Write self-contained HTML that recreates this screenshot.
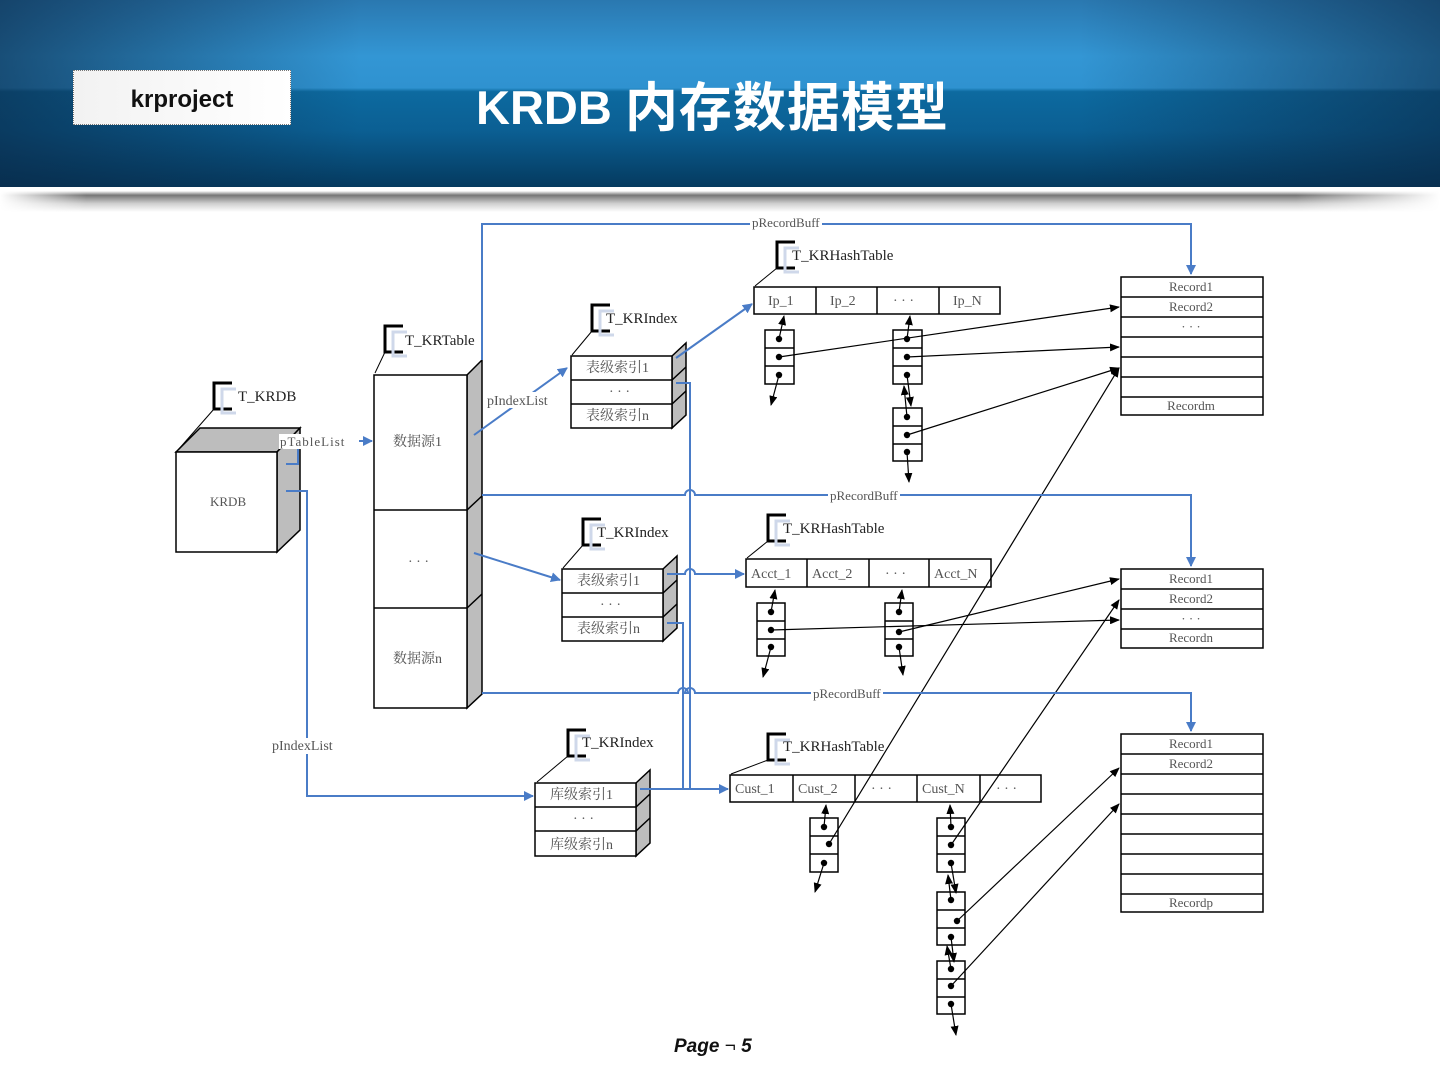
<!DOCTYPE html>
<html><head><meta charset="utf-8">
<style>
html,body{margin:0;padding:0;background:#fff;}
#wrap{position:relative;width:1440px;height:1080px;overflow:hidden;background:#fff;}
#hdr{position:absolute;left:0;top:0;width:1440px;height:187px;
background:linear-gradient(180deg,#2a78b0 0%,#3396d4 30%,#2f92d0 47%,#0d6aa0 49%,#0b5f93 70%,#053a5f 100%);}
#hdr:before{content:"";position:absolute;left:0;top:0;width:1440px;height:187px;
background:linear-gradient(90deg,rgba(10,40,70,.65) 0%,rgba(10,40,70,0) 25%,rgba(10,40,70,0) 75%,rgba(10,40,70,.6) 100%);}
#shadow{position:absolute;left:0;top:188px;width:1440px;height:24px;
background:linear-gradient(180deg,#fff 0%,#fff 12%,#777 30%,#cfcfcf 65%,#fff 100%);}
#shadow:after{content:"";position:absolute;left:0;top:0;width:1440px;height:24px;
background:linear-gradient(90deg,#fff 0%,rgba(255,255,255,0) 6%,rgba(255,255,255,0) 90%,#fff 100%);}
#kr{position:absolute;left:73px;top:70px;width:218px;height:55px;background:linear-gradient(90deg,#f2f2f2,#fff);
border:1px dotted #777;font:bold 24px "Liberation Sans",sans-serif;color:#111;text-align:center;line-height:57px;box-sizing:border-box;}
#title{position:absolute;left:476px;top:64px;font:bold 47px "Liberation Sans","Noto Sans CJK SC",sans-serif;color:#fff;white-space:nowrap;}
#title span{font-size:53px;letter-spacing:1px;position:relative;top:2px;}
#page{position:absolute;left:674px;top:1036px;font:italic bold 19px "Liberation Sans",sans-serif;color:#111;}
svg{position:absolute;left:0;top:0;}
</style></head><body><div id="wrap">
<div id="hdr"></div>
<div id="shadow"></div>
<div id="kr">krproject</div>
<div id="title">KRDB <span>内存数据模型</span></div>
<div id="page">Page <span style="font-style:normal;font-weight:normal">¬</span> 5</div>

<svg width="1440" height="1080" viewBox="0 0 1440 1080" font-family="'Liberation Serif','Noto Serif CJK SC',serif" font-size="14" fill="#555">
<defs>
<marker id="ba" markerWidth="10" markerHeight="10" refX="9" refY="5" orient="auto" markerUnits="userSpaceOnUse"><path d="M0,0 L10,5 L0,10 z" fill="#4a7cc7"/></marker>
<marker id="ka" markerWidth="10" markerHeight="8" refX="9" refY="4" orient="auto" markerUnits="userSpaceOnUse"><path d="M0,0 L10,4 L0,8 z" fill="#000"/></marker>
<marker id="dot" markerWidth="8" markerHeight="8" refX="4" refY="4" markerUnits="userSpaceOnUse"><circle cx="4" cy="4" r="3.2" fill="#000"/></marker>
</defs>

<!-- brackets -->
<g fill="none" stroke-width="3">
<path d="M232,383 h-18 v26 h18" stroke="#000"/><path d="M236,389 h-14 v24 h14" stroke="#cfd8ea"/>
<path d="M403,326 h-18 v26 h18" stroke="#000"/><path d="M407,332 h-14 v24 h14" stroke="#cfd8ea"/>
<path d="M610,305 h-18 v26 h18" stroke="#000"/><path d="M614,311 h-14 v24 h14" stroke="#cfd8ea"/>
<path d="M601,519 h-18 v26 h18" stroke="#000"/><path d="M605,525 h-14 v24 h14" stroke="#cfd8ea"/>
<path d="M586,730 h-18 v26 h18" stroke="#000"/><path d="M590,736 h-14 v24 h14" stroke="#cfd8ea"/>
<path d="M795,242 h-18 v26 h18" stroke="#000"/><path d="M799,248 h-14 v24 h14" stroke="#cfd8ea"/>
<path d="M786,515 h-18 v26 h18" stroke="#000"/><path d="M790,521 h-14 v24 h14" stroke="#cfd8ea"/>
<path d="M786,734 h-18 v26 h18" stroke="#000"/><path d="M790,740 h-14 v24 h14" stroke="#cfd8ea"/>
</g>
<g stroke="#000" stroke-width="1">
<line x1="214" y1="409" x2="178" y2="450"/>
<line x1="385" y1="352" x2="375" y2="373"/>
<line x1="592" y1="331" x2="572" y2="355"/>
<line x1="583" y1="545" x2="563" y2="568"/>
<line x1="568" y1="756" x2="537" y2="782"/>
<line x1="777" y1="268" x2="755" y2="286"/>
<line x1="768" y1="541" x2="747" y2="558"/>
<line x1="768" y1="760" x2="731" y2="774"/>
</g>
<g fill="#222" font-size="15">
<text x="238" y="401">T_KRDB</text>
<text x="405" y="345">T_KRTable</text>
<text x="606" y="323">T_KRIndex</text>
<text x="597" y="537">T_KRIndex</text>
<text x="582" y="747">T_KRIndex</text>
<text x="792" y="260">T_KRHashTable</text>
<text x="783" y="533">T_KRHashTable</text>
<text x="783" y="751">T_KRHashTable</text>
</g>

<!-- KRDB cube -->
<g stroke="#000" stroke-width="1.5">
<path d="M176,452 L200,428 L300,428 L277,452 z" fill="#bdbdbd"/>
<path d="M277,452 L300,428 L300,530 L277,552 z" fill="#bdbdbd"/>
<rect x="176" y="452" width="101" height="100" fill="#fff"/>
</g>
<text x="210" y="506" font-size="13">KRDB</text>

<!-- KRTable -->
<g stroke="#000" stroke-width="1.5">
<path d="M467,375 L482,360 L482,694 L467,708 z" fill="#bdbdbd"/>
<rect x="374" y="375" width="93" height="333" fill="#fff"/>
<path d="M374,510 H467 L482,496" fill="none"/>
<path d="M374,608 H467 L482,594" fill="none"/>
</g>
<text x="393" y="446">数据源1</text>
<text x="408" y="566">· · ·</text>
<text x="393" y="663">数据源n</text>

<!-- KRIndex boxes -->
<g stroke="#000" stroke-width="1.5">
<path d="M672,356 L686,343 L686,415 L672,428 z" fill="#bdbdbd"/>
<rect x="571" y="356" width="101" height="72" fill="#fff"/>
<path d="M571,380 H672 L686,367 M571,404 H672 L686,391" fill="none"/>
<path d="M663,569 L677,556 L677,628 L663,641 z" fill="#bdbdbd"/>
<rect x="562" y="569" width="101" height="72" fill="#fff"/>
<path d="M562,593 H663 L677,580 M562,617 H663 L677,604" fill="none"/>
<path d="M636,783 L650,770 L650,843 L636,856 z" fill="#bdbdbd"/>
<rect x="535" y="783" width="101" height="73" fill="#fff"/>
<path d="M535,807 H636 L650,794 M535,831 H636 L650,818" fill="none"/>
</g>
<text x="586" y="372">表级索引1</text><text x="609" y="396">· · ·</text><text x="586" y="420">表级索引n</text>
<text x="577" y="585">表级索引1</text><text x="600" y="609">· · ·</text><text x="577" y="633">表级索引n</text>
<text x="550" y="799">库级索引1</text><text x="573" y="823">· · ·</text><text x="550" y="849">库级索引n</text>

<!-- Hash tables -->
<g stroke="#000" stroke-width="1.5" fill="#fff">
<rect x="754" y="287" width="246" height="27"/>
<line x1="816" y1="287" x2="816" y2="314"/><line x1="877" y1="287" x2="877" y2="314"/><line x1="939" y1="287" x2="939" y2="314"/>
<rect x="746" y="559" width="245" height="28"/>
<line x1="807" y1="559" x2="807" y2="587"/><line x1="869" y1="559" x2="869" y2="587"/><line x1="929" y1="559" x2="929" y2="587"/>
<rect x="730" y="775" width="311" height="27"/>
<line x1="793" y1="775" x2="793" y2="802"/><line x1="855" y1="775" x2="855" y2="802"/><line x1="917" y1="775" x2="917" y2="802"/><line x1="980" y1="775" x2="980" y2="802"/>
</g>
<text x="768" y="305">Ip_1</text><text x="830" y="305">Ip_2</text><text x="893" y="305">· · ·</text><text x="953" y="305">Ip_N</text>
<text x="751" y="578">Acct_1</text><text x="812" y="578">Acct_2</text><text x="885" y="578">· · ·</text><text x="934" y="578">Acct_N</text>
<text x="735" y="793">Cust_1</text><text x="798" y="793">Cust_2</text><text x="871" y="793">· · ·</text><text x="922" y="793">Cust_N</text><text x="996" y="793">· · ·</text>

<!-- Record tables -->
<g stroke="#000" stroke-width="1.5" fill="#fff">
<rect x="1121" y="277" width="142" height="138"/>
<path d="M1121,297h142M1121,317h142M1121,337h142M1121,357h142M1121,377h142M1121,397h142"/>
<rect x="1121" y="569" width="142" height="79"/>
<path d="M1121,589h142M1121,609h142M1121,629h142"/>
<rect x="1121" y="734" width="142" height="178"/>
<path d="M1121,754h142M1121,774h142M1121,794h142M1121,814h142M1121,834h142M1121,854h142M1121,874h142M1121,894h142"/>
</g>
<g font-size="13" text-anchor="middle">
<text x="1191" y="291">Record1</text><text x="1191" y="311">Record2</text><text x="1191" y="331">· · ·</text><text x="1191" y="410">Recordm</text>
<text x="1191" y="583">Record1</text><text x="1191" y="603">Record2</text><text x="1191" y="623">· · ·</text><text x="1191" y="642">Recordn</text>
<text x="1191" y="748">Record1</text><text x="1191" y="768">Record2</text><text x="1191" y="907">Recordp</text>
</g>

<!-- chain nodes -->
<g stroke="#000" stroke-width="1.5" fill="#fff">
<rect x="765" y="330" width="29" height="54"/><path d="M765,348h29M765,366h29"/>
<rect x="893" y="330" width="29" height="54"/><path d="M893,348h29M893,366h29"/>
<rect x="893" y="408" width="29" height="53"/><path d="M893,426h29M893,444h29"/>
<rect x="757" y="603" width="28" height="53"/><path d="M757,621h28M757,639h28"/>
<rect x="885" y="603" width="28" height="53"/><path d="M885,621h28M885,639h28"/>
<rect x="810" y="818" width="28" height="54"/><path d="M810,836h28M810,854h28"/>
<rect x="937" y="818" width="28" height="54"/><path d="M937,836h28M937,854h28"/>
<rect x="937" y="892" width="28" height="53"/><path d="M937,910h28M937,928h28"/>
<rect x="937" y="961" width="28" height="53"/><path d="M937,979h28M937,997h28"/>
</g>

<!-- black arrows -->
<g stroke="#000" stroke-width="1.2" fill="none" marker-end="url(#ka)">
<line x1="779" y1="339" x2="784" y2="316" marker-start="url(#dot)"/>
<line x1="779" y1="375" x2="771" y2="405" marker-start="url(#dot)"/>
<line x1="779" y1="357" x2="1119" y2="307" marker-start="url(#dot)"/>
<line x1="907" y1="339" x2="910" y2="316" marker-start="url(#dot)"/>
<line x1="907" y1="357" x2="1119" y2="347" marker-start="url(#dot)"/>
<line x1="907" y1="375" x2="911" y2="406" marker-start="url(#dot)"/>
<line x1="907" y1="417" x2="904" y2="386" marker-start="url(#dot)"/>
<line x1="907" y1="435" x2="1119" y2="368" marker-start="url(#dot)"/>
<line x1="907" y1="452" x2="909" y2="482" marker-start="url(#dot)"/>
<line x1="771" y1="612" x2="775" y2="590" marker-start="url(#dot)"/>
<line x1="771" y1="630" x2="1119" y2="620" marker-start="url(#dot)"/>
<line x1="771" y1="647" x2="763" y2="677" marker-start="url(#dot)"/>
<line x1="899" y1="612" x2="902" y2="590" marker-start="url(#dot)"/>
<line x1="899" y1="632" x2="1119" y2="579" marker-start="url(#dot)"/>
<line x1="899" y1="647" x2="903" y2="675" marker-start="url(#dot)"/>
<line x1="824" y1="827" x2="826" y2="805" marker-start="url(#dot)"/>
<line x1="824" y1="863" x2="815" y2="892" marker-start="url(#dot)"/>
<line x1="829" y1="844" x2="1119" y2="368"/>
<line x1="951" y1="827" x2="950" y2="805" marker-start="url(#dot)"/>
<line x1="951" y1="845" x2="1119" y2="600"/>
<line x1="951" y1="863" x2="956" y2="893" marker-start="url(#dot)"/>
<line x1="951" y1="900" x2="948" y2="875" marker-start="url(#dot)"/>
<line x1="957" y1="921" x2="1119" y2="768"/>
<line x1="951" y1="937" x2="954" y2="962" marker-start="url(#dot)"/>
<line x1="951" y1="969" x2="947" y2="946" marker-start="url(#dot)"/>
<line x1="951" y1="986" x2="1119" y2="804" marker-start="url(#dot)"/>
<line x1="951" y1="1004" x2="956" y2="1035" marker-start="url(#dot)"/>
</g>
<circle cx="829" cy="844" r="3.2" fill="#000"/><circle cx="951" cy="845" r="3.2" fill="#000"/><circle cx="957" cy="921" r="3.2" fill="#000"/>

<!-- blue connectors -->
<g stroke="#4a7cc7" stroke-width="2" fill="none">
<path d="M482,360 V224 H1191 V274" marker-end="url(#ba)"/>
<path d="M482,495 H685 a5,5 0 0 1 10,0 H1191 V566" marker-end="url(#ba)"/>
<path d="M482,693 H678 a5,5 0 0 1 10,0 a5,5 0 0 1 0,0 H685 a5,5 0 0 1 10,0 H1191 V731" marker-end="url(#ba)"/>
<path d="M298,452 V441 H372" marker-end="url(#ba)"/>
<path d="M286,464 H298 V452"/>
<path d="M286,491 H307 V796 H533" marker-end="url(#ba)"/>
<path d="M474,435 L567,368" marker-end="url(#ba)"/>
<path d="M474,553 L560,580" marker-end="url(#ba)"/>
<path d="M676,358 L752,304" marker-end="url(#ba)"/>
<path d="M676,383 H690 V789"/>
<path d="M667,574 H685 a5,5 0 0 1 10,0 H744" marker-end="url(#ba)"/>
<path d="M667,623 H683 V789"/>
<path d="M640,789 H728" marker-end="url(#ba)"/>
</g>
<g font-size="13" fill="#555">
<rect x="750" y="215" width="72" height="14" fill="#fff"/><text x="752" y="227">pRecordBuff</text>
<rect x="828" y="488" width="72" height="14" fill="#fff"/><text x="830" y="500">pRecordBuff</text>
<rect x="811" y="686" width="72" height="14" fill="#fff"/><text x="813" y="698">pRecordBuff</text>
<rect x="279" y="434" width="80" height="15" fill="#fff"/><text x="280" y="446" letter-spacing="1">pTableList</text>
<rect x="485" y="392" width="65" height="16" fill="#fff"/><text x="487" y="405" font-size="14">pIndexList</text>
<rect x="270" y="738" width="72" height="16" fill="#fff"/><text x="272" y="750" font-size="14">pIndexList</text>
</g>
</svg>
</div></body></html>
